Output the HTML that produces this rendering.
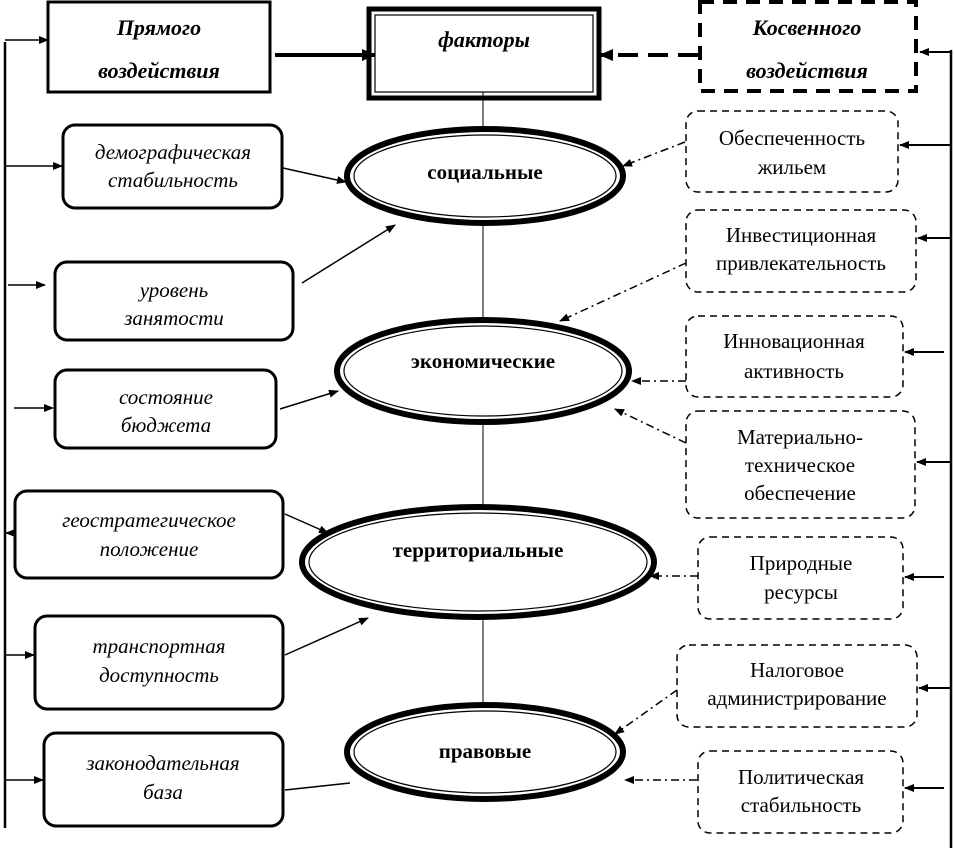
<!DOCTYPE html>
<html><head><meta charset="utf-8"><style>
html,body{margin:0;padding:0;background:#fff;}
svg{display:block}
.i{font-family:"Liberation Serif",serif;font-style:italic;font-size:21px;}
.ib{font-family:"Liberation Serif",serif;font-style:italic;font-weight:bold;font-size:22px;}
.b{font-family:"Liberation Serif",serif;font-weight:bold;font-size:21px;}
.r{font-family:"Liberation Serif",serif;font-size:21px;}
</style></head><body>
<svg width="954" height="848" viewBox="0 0 954 848" xmlns="http://www.w3.org/2000/svg">
<defs>
<marker id="a" markerWidth="10" markerHeight="8" refX="9" refY="4" orient="auto" markerUnits="userSpaceOnUse"><path d="M0,0 L10,4 L0,8 z" fill="#000"/></marker>
<marker id="a2" markerWidth="14" markerHeight="12" refX="13" refY="6" orient="auto" markerUnits="userSpaceOnUse"><path d="M0,0 L14,6 L0,12 z" fill="#000"/></marker>
</defs>
<g fill="none" stroke="#000">
<line x1="5" y1="42" x2="5" y2="828" stroke-width="2.5"/>
<line x1="951" y1="50" x2="951" y2="848" stroke-width="2.5"/>
<line x1="483" y1="92" x2="483" y2="705" stroke-width="1"/>
<rect x="48" y="2" width="222" height="90" stroke-width="3"/>
<rect x="369" y="9" width="230" height="89" stroke-width="5"/>
<rect x="375" y="15" width="218" height="77" stroke-width="1.2"/>
<rect x="700" y="2" width="216" height="89" stroke-width="4" stroke-dasharray="14,9"/>
<line x1="275" y1="55" x2="375" y2="55" stroke-width="4" marker-end="url(#a2)"/>
<line x1="698" y1="55" x2="600" y2="55" stroke-width="4" stroke-dasharray="20,10" marker-end="url(#a2)"/>
<rect x="63" y="125" width="219" height="83" rx="12" stroke-width="3"/>
<rect x="55" y="262" width="238" height="78" rx="12" stroke-width="3"/>
<rect x="55" y="370" width="221" height="78" rx="12" stroke-width="3"/>
<rect x="15" y="491" width="268" height="87" rx="12" stroke-width="3"/>
<rect x="35" y="616" width="248" height="93" rx="12" stroke-width="3"/>
<rect x="44" y="733" width="239" height="93" rx="12" stroke-width="3"/>
<line x1="5" y1="40" x2="48" y2="40" stroke-width="1.5" marker-end="url(#a)"/>
<line x1="5" y1="166" x2="62" y2="166" stroke-width="1.5" marker-end="url(#a)"/>
<line x1="8" y1="285" x2="45" y2="285" stroke-width="1.5" marker-end="url(#a)"/>
<line x1="14" y1="408" x2="53" y2="408" stroke-width="1.5" marker-end="url(#a)"/>
<line x1="15" y1="533" x2="6" y2="533" stroke-width="1.5" marker-end="url(#a)"/>
<line x1="5" y1="655" x2="34" y2="655" stroke-width="1.5" marker-end="url(#a)"/>
<line x1="5" y1="780" x2="43" y2="780" stroke-width="1.5" marker-end="url(#a)"/>
<g fill="#fff">
<ellipse cx="485" cy="176" rx="138" ry="47" stroke-width="6"/>
<ellipse cx="485" cy="176" rx="131" ry="41" stroke-width="1.2"/>
<ellipse cx="483" cy="371" rx="146" ry="51" stroke-width="6"/>
<ellipse cx="483" cy="371" rx="139" ry="45" stroke-width="1.2"/>
<ellipse cx="478" cy="562" rx="176" ry="55" stroke-width="6"/>
<ellipse cx="478" cy="562" rx="169" ry="49" stroke-width="1.2"/>
<ellipse cx="485" cy="752" rx="138" ry="47" stroke-width="6"/>
<ellipse cx="485" cy="752" rx="131" ry="41" stroke-width="1.2"/>
</g>
<line x1="283" y1="168" x2="346" y2="182" stroke-width="1.5" marker-end="url(#a)"/>
<line x1="302" y1="283" x2="395" y2="225" stroke-width="1.5" marker-end="url(#a)"/>
<line x1="280" y1="409" x2="338" y2="391" stroke-width="1.5" marker-end="url(#a)"/>
<line x1="285" y1="514" x2="328" y2="533" stroke-width="1.5" marker-end="url(#a)"/>
<line x1="285" y1="655" x2="368" y2="618" stroke-width="1.5" marker-end="url(#a)"/>
<line x1="285" y1="790" x2="350" y2="783" stroke-width="1.5"/>
<g stroke-width="1.5" stroke-dasharray="7,5">
<rect x="686" y="111" width="212" height="81" rx="12"/>
<rect x="686" y="210" width="230" height="82" rx="12"/>
<rect x="686" y="316" width="217" height="81" rx="12"/>
<rect x="686" y="411" width="229" height="107" rx="12"/>
<rect x="698" y="537" width="205" height="82" rx="12"/>
<rect x="677" y="645" width="240" height="82" rx="12"/>
<rect x="698" y="751" width="205" height="82" rx="12"/>
</g>
<line x1="951" y1="52" x2="920" y2="52" stroke-width="2" marker-end="url(#a)"/>
<line x1="951" y1="145" x2="900" y2="145" stroke-width="2" marker-end="url(#a)"/>
<line x1="951" y1="238" x2="918" y2="238" stroke-width="2" marker-end="url(#a)"/>
<line x1="944" y1="352" x2="905" y2="352" stroke-width="2" marker-end="url(#a)"/>
<line x1="951" y1="462" x2="917" y2="462" stroke-width="2" marker-end="url(#a)"/>
<line x1="944" y1="577" x2="905" y2="577" stroke-width="2" marker-end="url(#a)"/>
<line x1="951" y1="688" x2="919" y2="688" stroke-width="2" marker-end="url(#a)"/>
<line x1="944" y1="788" x2="905" y2="788" stroke-width="2" marker-end="url(#a)"/>
<g stroke-width="1.5" stroke-dasharray="8,4,2,4">
<line x1="685" y1="142" x2="623" y2="166" marker-end="url(#a)"/>
<line x1="686" y1="263" x2="560" y2="321" marker-end="url(#a)"/>
<line x1="686" y1="381" x2="632" y2="381" marker-end="url(#a)"/>
<line x1="686" y1="443" x2="615" y2="409" marker-end="url(#a)"/>
<line x1="698" y1="576" x2="650" y2="576" marker-end="url(#a)"/>
<line x1="677" y1="690" x2="615" y2="734" marker-end="url(#a)"/>
<line x1="697" y1="780" x2="625" y2="780" marker-end="url(#a)"/>
</g>
</g>
<g text-anchor="middle">
<text class="ib" x="159" y="35">Прямого</text>
<text class="ib" x="159" y="78">воздействия</text>
<text class="ib" x="484" y="47">факторы</text>
<text class="ib" x="807" y="35">Косвенного</text>
<text class="ib" x="807" y="78">воздействия</text>
<text class="i" x="173" y="159">демографическая</text>
<text class="i" x="173" y="187">стабильность</text>
<text class="i" x="174" y="297">уровень</text>
<text class="i" x="174" y="325">занятости</text>
<text class="i" x="166" y="404">состояние</text>
<text class="i" x="166" y="432">бюджета</text>
<text class="i" x="149" y="527">геостратегическое</text>
<text class="i" x="149" y="556">положение</text>
<text class="i" x="159" y="653">транспортная</text>
<text class="i" x="159" y="682">доступность</text>
<text class="i" x="163" y="770">законодательная</text>
<text class="i" x="163" y="799">база</text>
<text class="b" x="485" y="179">социальные</text>
<text class="b" x="483" y="368">экономические</text>
<text class="b" x="478" y="557">территориальные</text>
<text class="b" x="485" y="758">правовые</text>
<text class="r" x="792" y="145">Обеспеченность</text>
<text class="r" x="792" y="174">жильем</text>
<text class="r" x="801" y="242">Инвестиционная</text>
<text class="r" x="801" y="270">привлекательность</text>
<text class="r" x="794" y="348">Инновационная</text>
<text class="r" x="794" y="378">активность</text>
<text class="r" x="800" y="444">Материально-</text>
<text class="r" x="800" y="472">техническое</text>
<text class="r" x="800" y="500">обеспечение</text>
<text class="r" x="801" y="570">Природные</text>
<text class="r" x="801" y="599">ресурсы</text>
<text class="r" x="797" y="677">Налоговое</text>
<text class="r" x="797" y="705">администрирование</text>
<text class="r" x="801" y="784">Политическая</text>
<text class="r" x="801" y="812">стабильность</text>
</g>
</svg>
</body></html>
